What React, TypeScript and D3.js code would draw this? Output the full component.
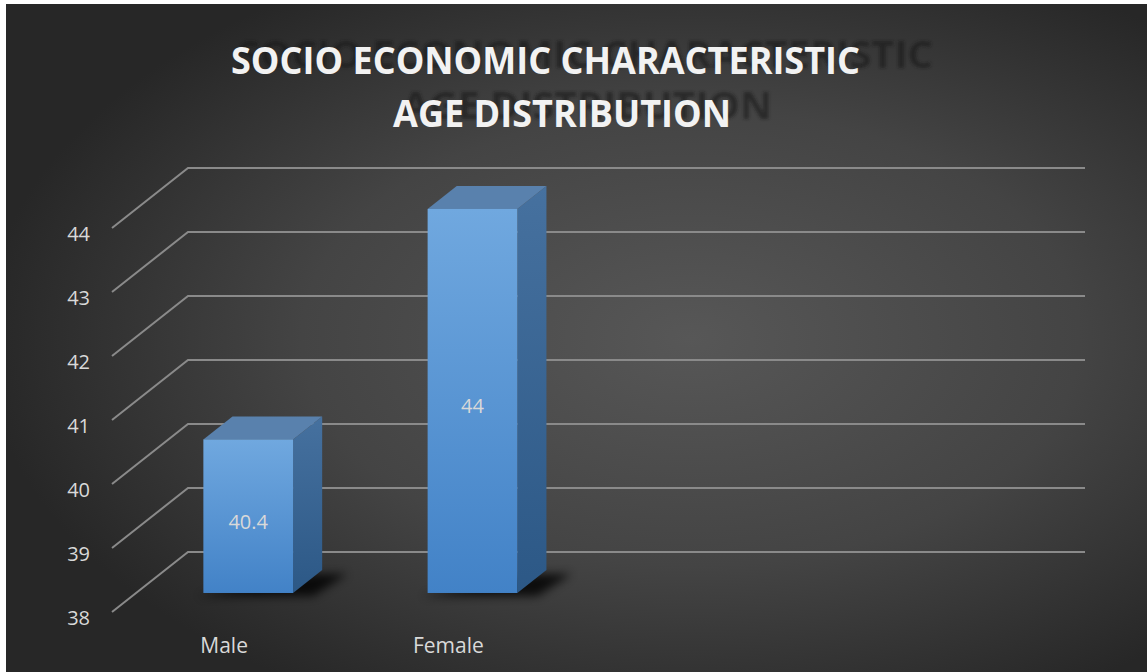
import React, { useEffect } from "react";
import * as d3 from "d3";

const categories: string[] = ["Male", "Female", "", ""];
const values: (number | null)[] = [40.4, 44, null, null];
const yTicks: number[] = [38, 39, 40, 41, 42, 43, 44];
const titleLines: string[] = ["SOCIO ECONOMIC CHARACTERISTIC", "AGE DISTRIBUTION"];

const W = 1147;
const H = 672;
// 3D depth vector of the floor (front edge -> back wall)
const DX = 76;
const DY = -60;
const T0 = 0.317; // bar front plane
const T1 = 0.7; // bar back plane

export default function App() {
  useEffect(() => {
    document.body.style.margin = "0";
    document.body.style.overflow = "hidden";
  }, []);

  const x = d3
    .scaleBand<number>()
    .domain(categories.map((_, i) => i))
    .range([112, 112 + 897])
    .paddingInner(0)
    .paddingOuter(0);
  const y = d3.scaleLinear().domain([38, 44]).range([612, 228]);
  const base = y.domain()[0];

  const proj = (px: number, v: number, t: number): [number, number] => [
    px + DX * t,
    y(v) + DY * t,
  ];
  const pts = (arr: [number, number][]) => arr.map((p) => p.join(",")).join(" ");

  const barW = x.bandwidth() * 0.4;

  return (
    <svg
      width={W}
      height={H}
      style={{ position: "absolute", left: 0, top: 0, display: "block" }}
      fontFamily="'Open Sans', sans-serif"
    >
      <defs>
        <radialGradient id="bg" cx="0.6" cy="0.5" r="0.62">
          <stop offset="0" stopColor="#575757" />
          <stop offset="0.55" stopColor="#444444" />
          <stop offset="1" stopColor="#272727" />
        </radialGradient>
        <linearGradient id="front" x1="0" y1="0" x2="0" y2="1">
          <stop offset="0" stopColor="#70a8df" />
          <stop offset="1" stopColor="#4282c7" />
        </linearGradient>
        <linearGradient id="side" x1="0" y1="0" x2="0" y2="1">
          <stop offset="0" stopColor="#46719f" />
          <stop offset="1" stopColor="#2c5886" />
        </linearGradient>
        <filter id="blur" x="-50%" y="-50%" width="200%" height="200%">
          <feGaussianBlur stdDeviation="5" />
        </filter>
        <filter id="tblur" x="-10%" y="-50%" width="120%" height="200%">
          <feGaussianBlur stdDeviation="1.6" />
        </filter>
      </defs>

      <rect x={0} y={0} width={W} height={H} fill="#ffffff" />
      <rect x={6} y={4} width={W - 6} height={H - 4} fill="url(#bg)" />

      {/* title shadow */}
      <g filter="url(#tblur)" fill="#151515" opacity={0.55} fontWeight={700} fontSize={37}>
        <text x={238} y={68} textLength={695} lengthAdjust="spacingAndGlyphs">
          {titleLines[0]}
        </text>
        <text x={402} y={119} textLength={370} lengthAdjust="spacingAndGlyphs">
          {titleLines[1]}
        </text>
      </g>
      {/* title */}
      <g fill="#f2f2f2" fontWeight={700} fontSize={38}>
        <text x={231} y={74} textLength={629} lengthAdjust="spacingAndGlyphs">
          {titleLines[0]}
        </text>
        <text x={393} y={127} textLength={338} lengthAdjust="spacingAndGlyphs">
          {titleLines[1]}
        </text>
      </g>

      {/* gridlines: back wall + side wall diagonals */}
      <g stroke="#8a8a8a" strokeWidth={2} fill="none">
        {yTicks.map((t) => {
          const [fx, fy] = proj(x.range()[0], t, 0);
          const [bx, by] = proj(x.range()[0], t, 1);
          const [ex] = proj(x.range()[1], t, 1);
          return (
            <polyline key={t} points={pts([[fx, fy], [bx, by], [ex, by]])} />
          );
        })}
      </g>

      {/* y tick labels */}
      <g fill="#d9d9d9" fontSize={20} textAnchor="end">
        {yTicks.map((t) => (
          <text key={t} x={90} y={y(t) + 5} dominantBaseline="central">
            {t}
          </text>
        ))}
      </g>

      {/* bars */}
      {values.map((v, i) => {
        if (v == null) return null;
        const cx = (x(i) as number) + x.bandwidth() / 2;
        const x0 = cx - barW / 2;
        const x1 = cx + barW / 2;
        const fTL = proj(x0, v, T0);
        const fTR = proj(x1, v, T0);
        const fBL = proj(x0, base, T0);
        const fBR = proj(x1, base, T0);
        const bTL = proj(x0, v, T1);
        const bTR = proj(x1, v, T1);
        const bBR = proj(x1, base, T1);
        const shadow: [number, number][] = [
          [fBL[0] - 6, fBL[1] + 3],
          [fBR[0] + 20, fBR[1] + 3],
          [bBR[0] + 25, bBR[1] + 4],
          [bBR[0] - 10, bBR[1] + 4],
        ];
        const mid = proj(cx, (v + base) / 2, T0);
        return (
          <g key={i}>
            <polygon points={pts(shadow)} fill="#000" opacity={0.8} filter="url(#blur)" />
            <polygon points={pts([fTR, bTR, bBR, fBR])} fill="url(#side)" />
            <polygon points={pts([fTL, bTL, bTR, fTR])} fill="#5981ad" />
            <rect
              x={fTL[0]}
              y={fTL[1]}
              width={fTR[0] - fTL[0]}
              height={fBL[1] - fTL[1]}
              fill="url(#front)"
            />
            <text
              x={mid[0]}
              y={mid[1] + 5}
              fill="#d9d9d9"
              fontSize={20}
              textAnchor="middle"
              dominantBaseline="central"
            >
              {v}
            </text>
          </g>
        );
      })}

      {/* category labels */}
      <g fill="#d9d9d9" fontSize={21} textAnchor="middle">
        {categories.map((c, i) => (
          <text key={i} x={(x(i) as number) + x.bandwidth() / 2} y={653}>
            {c}
          </text>
        ))}
      </g>
    </svg>
  );
}
